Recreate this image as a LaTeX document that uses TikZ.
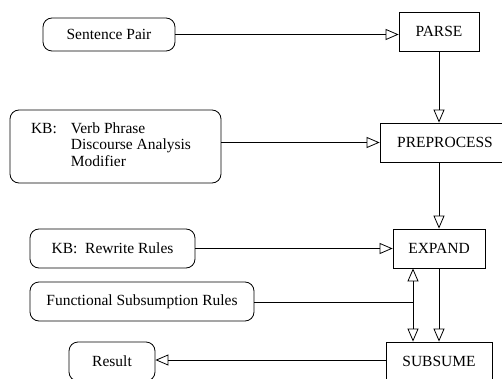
\documentclass[tikz,border=0pt]{standalone}
\usepackage{fontspec}
\setmainfont{Liberation Serif}
\usetikzlibrary{arrows.meta}
\begin{document}
\begin{tikzpicture}[x=1pt,y=-1pt,
  every node/.style={font=\fontsize{15.5}{18}\selectfont, inner sep=0pt, line width=0.8pt},
  stage/.style={draw, rectangle, minimum height=39pt},
  source/.style={draw, rectangle, rounded corners=9pt, minimum height=39pt},
  flow/.style={line width=0.8pt, -{Triangle[open, length=13pt, width=11pt]}},
  plain/.style={line width=0.8pt}]
\useasboundingbox (0,0) rectangle (502,379);
\clip (0,0) rectangle (502,379);

% processing stages
\node[stage, minimum width=80pt]  (parse)   at (439,31.5)  {PARSE};
\node[stage, minimum width=130pt] (prep)    at (445,142.5) {PREPROCESS};
\node[stage, minimum width=92pt]  (expand)  at (439,248.5) {EXPAND};
\node[stage, minimum width=106pt] (subsume) at (439,361.5) {SUBSUME};

% inputs and output
\node[source, minimum width=132pt, minimum height=33pt] (pair) at (109,34.5) {Sentence Pair};
\node[source, minimum width=211pt, minimum height=73pt] (kbprep) at (115.5,146.5)
  {\renewcommand{\arraystretch}{0.93}\begin{tabular}{@{}l@{\hspace{14pt}}l@{}}KB: & Verb Phrase\\ & Discourse Analysis\\ & Modifier\end{tabular}\hspace*{9pt}};
\node[source, minimum width=165pt] (rewrite) at (112.5,248.5) {KB:\ \ Rewrite Rules};
\node[source, minimum width=224pt] (func)    at (142,301.5)   {Functional Subsumption Rules};
\node[source, minimum width=86pt]  (result)  at (112,361.5)   {Result};

\coordinate (fj) at (413,302);

% connectors
\draw[flow] (pair.east) -- (pair.east -| parse.west);
\draw[flow] (parse.south) -- (parse.south |- prep.north);
\draw[flow] (kbprep.east |- prep.west) -- (prep.west);
\draw[flow] (prep.south -| parse.south) -- (expand.north);
\draw[flow] (rewrite.east) -- (rewrite.east -| expand.west);
\draw[plain] (func.east |- fj) -- (fj);
\draw[flow] (fj) -- (fj |- expand.south);
\draw[flow] (fj) -- (fj |- subsume.north);
\draw[flow] (expand.south) -- (subsume.north);
\draw[flow] (subsume.west |- 0,360) -- (result.east |- 0,360);
\end{tikzpicture}
\end{document}
